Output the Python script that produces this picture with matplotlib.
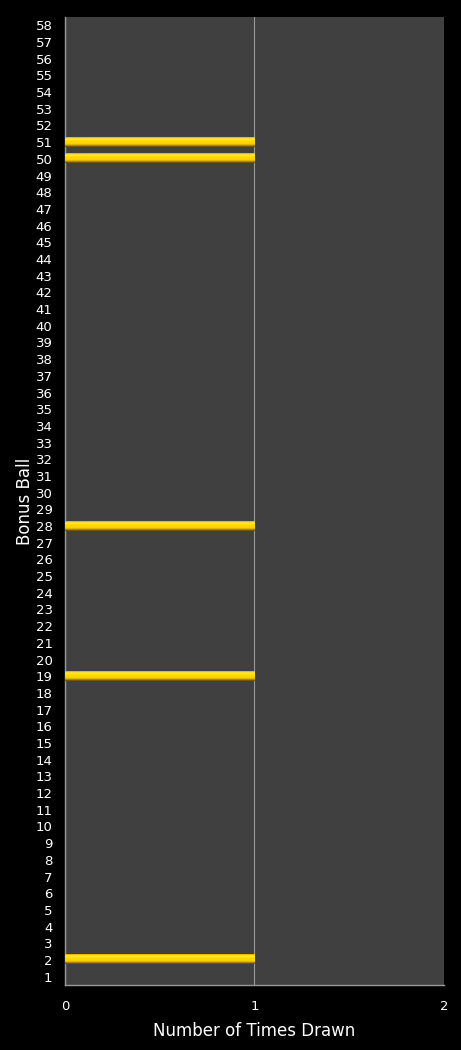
import numpy as np
import matplotlib
matplotlib.use('Agg')
import matplotlib.pyplot as plt

# Bonus ball numbers 1..58 and how many times each was drawn
balls = list(range(1, 59))
drawn_balls = [2, 19, 28, 50, 51]
times_drawn = [1 if b in drawn_balls else 0 for b in balls]
x_ticks = [0, 1, 2]

fig = plt.figure(figsize=(4.61, 10.5), dpi=100, facecolor='black')
ax = fig.add_axes([0.141, 0.0619, 0.822, 0.9219])
ax.set_facecolor('#404040')

# glossy yellow gradient for the bars (top row first)
grad = np.array([0.6, 0.95, 0.85, 0.8, 0.75, 0.7, 0.45, 0.1]).reshape(-1, 1)
cmap = matplotlib.colors.LinearSegmentedColormap.from_list(
    'gold', [(0, '#5e4000'), (0.4, '#c29000'), (0.7, '#f5d000'),
             (0.85, '#ffe000'), (1, '#fff27a')])
bar_h = 0.54
for b, v in zip(balls, times_drawn):
    if v == 0:
        continue
    ax.imshow(grad, cmap=cmap, vmin=0, vmax=1, aspect='auto',
              interpolation='bilinear',
              extent=(0, v, b - bar_h / 2, b + bar_h / 2), zorder=3)

ax.set_xlim(0, 2)
ax.set_ylim(0.5, 58.5)
ax.set_yticks(balls)
ax.set_yticklabels([str(b) for b in balls])
ax.set_xticks(x_ticks)
ax.set_xticklabels([str(t) for t in x_ticks])
ax.xaxis.grid(True, color='#9a9a9a', linewidth=0.8)
ax.set_axisbelow(True)

ax.tick_params(colors='white', labelsize=9.5, length=0, pad=9)
ax.tick_params(axis='x', pad=11)
for side in ['top', 'right']:
    ax.spines[side].set_visible(False)
for side in ['left', 'bottom']:
    ax.spines[side].set_color('#9a9a9a')
    ax.spines[side].set_linewidth(1)

ax.set_xlabel('Number of Times Drawn', color='white', fontsize=12, labelpad=6)
ax.set_ylabel('Bonus Ball', color='white', fontsize=12, labelpad=1)

fig.savefig('out.png', dpi=100, facecolor='black')
